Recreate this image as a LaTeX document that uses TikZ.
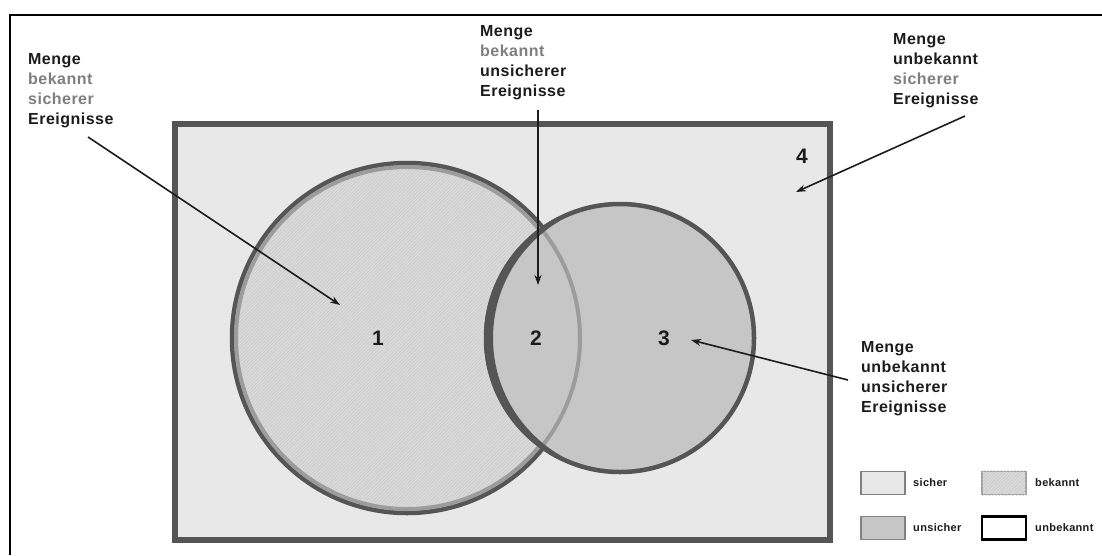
\documentclass[tikz,border=0pt]{standalone}
\usepackage{fontspec}
\setmainfont{Liberation Sans}[LetterSpace=3]
\usetikzlibrary{arrows.meta,patterns.meta}

\definecolor{rimdark}{HTML}{555555}
\definecolor{rimlight}{HTML}{9C9C9C}
\definecolor{bgsicher}{HTML}{E8E8E8}
\definecolor{bgbekannt}{HTML}{DADADA}
\definecolor{hatch}{HTML}{C8C8C8}
\definecolor{bgunsicher}{HTML}{C6C6C6}
\definecolor{txtdark}{HTML}{1C1C1C}
\definecolor{txtgray}{HTML}{7E7E7E}

\tikzset{
  lbl/.style={anchor=north west, align=left, inner sep=0pt,
    font=\bfseries\fontsize{16}{20}\selectfont, text=txtdark},
  num/.style={inner sep=0pt, font=\bfseries\fontsize{21}{21}\selectfont, text=txtdark},
  leg/.style={anchor=west, inner sep=0pt, font=\bfseries\fontsize{11}{13}\selectfont, text=txtdark},
  legbox/.style={minimum width=44pt, minimum height=23pt, inner sep=0pt},
  arr/.style={draw=txtdark, line width=1.6pt, -{Stealth[length=10pt,width=7pt]}},
  hatched/.style={pattern={Lines[angle=45,distance=2.4pt,line width=0.45pt]}, pattern color=hatch},
}

\begin{document}
\begin{tikzpicture}[x=1pt,y=-1pt]
\useasboundingbox (0,0) rectangle (1102,555);
\fill[white] (0,0) rectangle (1102,555);

% outer frame (top and left edge only)
\draw[line width=1.5pt, black] (10,555) -- (10,15) -- (1102,15);

% universe of events: sicher
\draw[fill=bgsicher, draw=rimdark, line width=6pt] (175,124) rectangle (830,540);

% set 1: bekannt sicher
\fill[bgbekannt] (407,338) circle (177pt);
\path[hatched] (407,338) circle (177pt);
\draw[rimdark, line width=4.5pt] (407,338) circle (175pt);
\draw[rimlight, line width=4pt] (407,338) circle (171pt);

% set 3: unsicher
\fill[bgunsicher] (620,338) circle (136pt);
\begin{scope}
  \clip (620,338) circle (134pt);
  \draw[rimlight, line width=4pt] (407,338) circle (173pt);
\end{scope}
\draw[rimdark, line width=4.5pt] (620,338) circle (134pt);
% heavier rim on the left side of set 3
\begin{scope}
  \clip (470,190) rectangle (560,490);
  \fill[rimdark, even odd rule] (620,338) circle (136pt) (629,338) circle (136pt);
\end{scope}

% region numbers
\node[num] (n1) at (378,338) {1};
\node[num] (n2) at (536,338) {2};
\node[num] (n3) at (664,338) {3};
\node[num] (n4) at (802,156) {4};

% labels
\node[lbl] (lab1) at (28,53.5) {Menge\\\textcolor{txtgray}{bekannt}\\\textcolor{txtgray}{sicherer}\\Ereignisse};
\node[lbl] (lab2) at (480,25.5) {Menge\\\textcolor{txtgray}{bekannt}\\unsicherer\\Ereignisse};
\node[lbl] (lab3) at (893,33.5) {Menge\\unbekannt\\\textcolor{txtgray}{sicherer}\\Ereignisse};
\node[lbl] (lab4) at (861,341.5) {Menge\\unbekannt\\unsicherer\\Ereignisse};

% pointers
\coordinate (s1) at (88,137);  \coordinate (t1) at (340,305);
\coordinate (s2) at (538,110); \coordinate (t2) at (538,285);
\coordinate (s3) at (965,116); \coordinate (t3) at (796,192);
\coordinate (s4) at (848,380); \coordinate (t4) at (691,340);
\draw[arr] (s1) -- (t1);
\draw[arr] (s2) -- (t2);
\draw[arr] (s3) -- (t3);
\draw[arr] (s4) -- (t4);

% legend
\node[legbox, fill=bgsicher, draw=gray, line width=1.3pt] (b1) at (883,483) {};
\node[leg] (l1) at (913,483) {sicher};
\node[legbox, fill=bgbekannt, draw=rimlight, line width=1.3pt] (b2) at (1004,483) {};
\path[hatched] (b2.south west) rectangle (b2.north east);
\node[leg] (l2) at (1035,483) {bekannt};
\node[legbox, fill=bgunsicher, draw=gray, line width=1.3pt] (b3) at (883,528) {};
\node[leg] (l3) at (913,528) {unsicher};
\node[legbox, fill=white, draw=black, line width=2.5pt] (b4) at (1004,528) {};
\node[leg] (l4) at (1035,528) {unbekannt};
\end{tikzpicture}
\end{document}
